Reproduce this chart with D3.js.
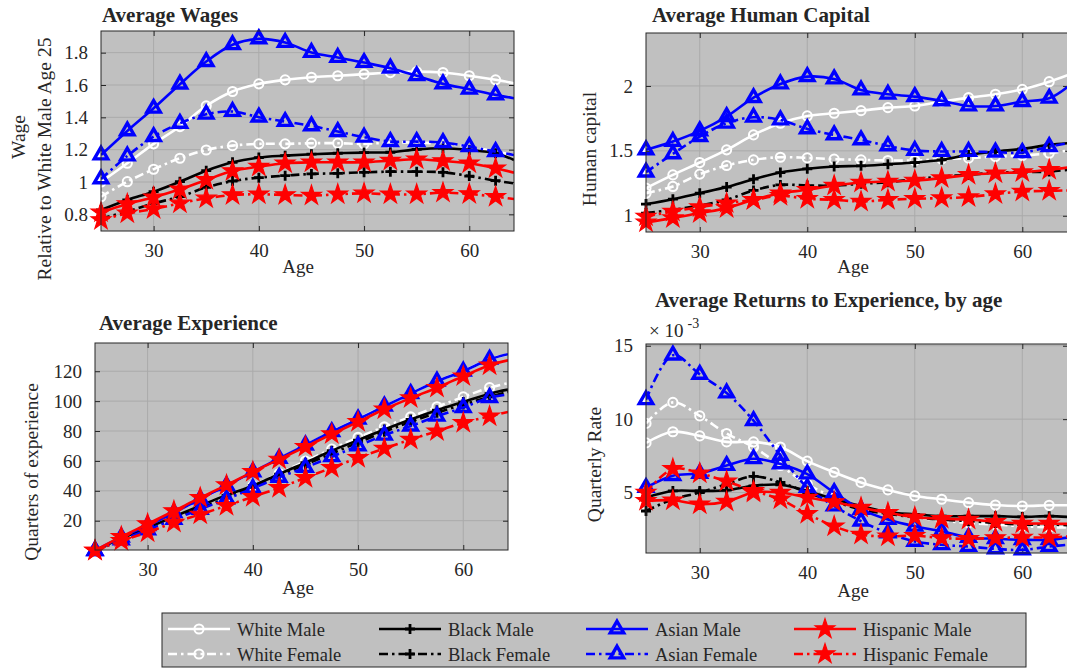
<!DOCTYPE html>
<html>
<head>
<meta charset="utf-8">
<script src="https://cdn.jsdelivr.net/npm/d3@7"></script>
<style>
  body { margin: 0; background: #fff; }
  svg text { font-family: "Liberation Serif", "Times New Roman", serif; fill: #262626; }
</style>
</head>
<body>
<svg id="fig" width="1067" height="669"></svg>
<script>
// ages: markers every 2.5 years, last point is the end of the curve
const ages = [25, 27.5, 30, 32.5, 35, 37.5, 40, 42.5, 45, 47.5, 50, 52.5, 55, 57.5, 60, 62.5, 64.25];
const ageTicks = [30, 40, 50, 60];

const seriesNames = ["White Male", "White Female", "Black Male", "Black Female",
                     "Asian Male", "Asian Female", "Hispanic Male", "Hispanic Female"];

// Average wages, relative to white male age 25
const wageWhiteMale      = [1.00, 1.116, 1.236, 1.343, 1.471, 1.560, 1.607, 1.632, 1.648, 1.657, 1.667, 1.677, 1.683, 1.677, 1.657, 1.632, 1.611];
const wageWhiteFemale    = [0.909, 1.002, 1.079, 1.147, 1.198, 1.225, 1.236, 1.236, 1.240, 1.240, 1.236, 1.244, 1.244, 1.236, 1.219, 1.188, 1.167];
const wageBlackMale      = [0.827, 0.889, 0.940, 1.002, 1.070, 1.122, 1.151, 1.163, 1.172, 1.178, 1.182, 1.184, 1.202, 1.209, 1.198, 1.178, 1.136];
const wageBlackFemale    = [0.775, 0.817, 0.868, 0.909, 0.967, 1.006, 1.027, 1.039, 1.050, 1.054, 1.060, 1.064, 1.064, 1.060, 1.037, 1.008, 0.992];
const wageAsianMale      = [1.167, 1.316, 1.456, 1.605, 1.745, 1.849, 1.885, 1.863, 1.801, 1.770, 1.739, 1.704, 1.657, 1.607, 1.574, 1.539, 1.518];
const wageAsianFemale    = [1.019, 1.161, 1.281, 1.363, 1.419, 1.436, 1.401, 1.374, 1.347, 1.312, 1.277, 1.250, 1.250, 1.244, 1.219, 1.188, 1.167];
const wageHispanicMale   = [0.812, 0.864, 0.905, 0.955, 1.013, 1.068, 1.095, 1.116, 1.122, 1.122, 1.122, 1.132, 1.141, 1.130, 1.116, 1.085, 1.058];
const wageHispanicFemale = [0.765, 0.806, 0.833, 0.868, 0.899, 0.920, 0.924, 0.920, 0.916, 0.924, 0.930, 0.924, 0.924, 0.934, 0.926, 0.909, 0.895];
const wageTicks = [0.8, 1, 1.2, 1.4, 1.6, 1.8];

// Average human capital
const hcWhiteMale      = [1.213, 1.315, 1.410, 1.508, 1.623, 1.713, 1.769, 1.790, 1.810, 1.833, 1.846, 1.879, 1.910, 1.936, 1.974, 2.033, 2.085];
const hcWhiteFemale    = [1.174, 1.226, 1.321, 1.387, 1.431, 1.451, 1.446, 1.436, 1.431, 1.426, 1.426, 1.436, 1.444, 1.456, 1.464, 1.482, 1.503];
const hcBlackMale      = [1.090, 1.128, 1.174, 1.221, 1.282, 1.333, 1.362, 1.379, 1.385, 1.397, 1.410, 1.431, 1.469, 1.495, 1.515, 1.546, 1.559];
const hcBlackFemale    = [1.021, 1.046, 1.079, 1.123, 1.195, 1.238, 1.233, 1.233, 1.246, 1.259, 1.282, 1.303, 1.315, 1.333, 1.336, 1.341, 1.354];
const hcAsianMale      = [1.508, 1.572, 1.654, 1.764, 1.910, 2.015, 2.072, 2.054, 1.969, 1.936, 1.918, 1.885, 1.846, 1.846, 1.879, 1.905, 1.995];
const hcAsianFemale    = [1.336, 1.477, 1.610, 1.713, 1.759, 1.738, 1.669, 1.623, 1.585, 1.538, 1.503, 1.495, 1.495, 1.490, 1.487, 1.533, 1.559];
const hcHispanicMale   = [0.949, 0.982, 1.021, 1.059, 1.123, 1.174, 1.200, 1.233, 1.256, 1.264, 1.272, 1.290, 1.315, 1.328, 1.336, 1.354, 1.372];
const hcHispanicFemale = [0.995, 1.033, 1.067, 1.097, 1.123, 1.154, 1.131, 1.123, 1.110, 1.123, 1.131, 1.136, 1.144, 1.167, 1.187, 1.192, 1.195];
const hcTicks = [1, 1.5, 2];

// Average experience, quarters
const expWhiteMale      = [0, 9.0, 16.9, 25.6, 34.3, 43.3, 52.6, 61.4, 70.5, 79.6, 88.1, 96.7, 105.1, 113.4, 120.2, 128.1, 131.2];
const expWhiteFemale    = [0, 7.5, 14.2, 21.6, 28.2, 36.0, 43.4, 51.6, 59.9, 67.9, 75.7, 82.8, 89.5, 96.2, 102.8, 109.0, 112.0];
const expBlackMale      = [0, 8.2, 15.3, 22.7, 30.0, 37.1, 43.4, 51.2, 58.8, 66.8, 73.9, 81.0, 87.7, 93.9, 99.5, 105.0, 107.7];
const expBlackFemale    = [0, 7.5, 14.2, 21.6, 28.2, 35.4, 42.3, 50.1, 57.6, 65.0, 72.3, 79.5, 86.1, 92.2, 97.7, 102.8, 106.2];
const expAsianMale      = [0, 8.9, 16.7, 25.3, 34.5, 43.4, 52.7, 61.6, 70.6, 79.5, 87.9, 96.6, 105.0, 113.3, 120.0, 128.0, 131.4];
const expAsianFemale    = [0, 7.1, 13.8, 20.9, 27.6, 34.5, 41.6, 49.0, 55.6, 62.8, 70.1, 77.2, 83.3, 89.9, 95.7, 102.4, 104.4];
const expHispanicMale   = [0, 9.3, 17.8, 26.5, 35.4, 43.8, 52.7, 61.0, 69.4, 77.9, 86.1, 94.6, 102.0, 109.0, 116.7, 124.0, 127.3];
const expHispanicFemale = [0, 6.6, 12.2, 18.7, 24.2, 30.0, 36.0, 42.0, 48.7, 55.4, 62.1, 68.3, 74.3, 79.9, 85.5, 89.9, 92.8];
const expTicks = [20, 40, 60, 80, 100, 120];

// Average returns to experience, quarterly rate in units of 1e-3
const retWhiteMale      = [8.38, 9.14, 8.86, 8.45, 8.45, 8.10, 7.14, 6.38, 5.69, 5.18, 4.77, 4.54, 4.31, 4.15, 4.08, 4.13, 4.13];
const retWhiteFemale    = [9.71, 11.14, 10.22, 9.02, 8.10, 6.84, 5.57, 4.66, 3.97, 3.62, 3.32, 3.09, 2.93, 2.82, 2.70, 2.63, 2.63];
const retBlackMale      = [4.66, 5.11, 5.11, 5.16, 5.46, 5.53, 5.11, 4.54, 4.08, 3.67, 3.51, 3.39, 3.39, 3.39, 3.34, 3.39, 3.34];
const retBlackFemale    = [3.74, 4.54, 5.00, 5.57, 6.10, 5.69, 5.00, 4.38, 3.85, 3.55, 3.32, 3.16, 3.05, 2.93, 2.82, 2.82, 2.77];
const retAsianMale      = [5.34, 6.15, 6.31, 6.84, 7.30, 6.95, 6.26, 5.00, 3.85, 3.16, 2.70, 2.36, 1.94, 1.85, 1.78, 1.78, 1.94];
const retAsianFemale    = [11.32, 14.36, 13.05, 11.78, 9.90, 7.53, 5.34, 4.08, 3.05, 2.24, 1.67, 1.44, 1.32, 1.16, 1.09, 1.32, 1.44];
const retHispanicMale   = [4.43, 4.47, 4.20, 4.38, 5.00, 5.00, 4.66, 4.36, 3.97, 3.62, 3.32, 3.21, 3.16, 3.00, 2.89, 2.89, 2.86];
const retHispanicFemale = [5.00, 6.61, 6.31, 5.76, 5.11, 4.54, 3.55, 2.70, 2.13, 2.01, 2.06, 1.90, 1.85, 1.90, 1.94, 1.94, 2.01];
const retTicks = [5, 10, 15];

// look of each series (same order as seriesNames)
const femaleDash = "9,4,2.5,4";
const seriesStyle = [
  { color: "#ffffff", dash: null,       marker: "circle" },
  { color: "#ffffff", dash: femaleDash, marker: "circle" },
  { color: "#000000", dash: null,       marker: "plus" },
  { color: "#000000", dash: femaleDash, marker: "plus" },
  { color: "#0000ff", dash: null,       marker: "triangle" },
  { color: "#0000ff", dash: femaleDash, marker: "triangle" },
  { color: "#ff0000", dash: null,       marker: "star" },
  { color: "#ff0000", dash: femaleDash, marker: "star" }
];

const panels = [
  { id: "wage", title: "Average Wages", rect: [101, 31, 514, 231], ydom: [0.697, 1.934], ticks: wageTicks,
    titlePos: [102, 21.5], agePos: [298, 273],
    ylabels: [{ t: "Wage", x: 25, y: 137 }, { t: "Relative to White Male Age 25", x: 51, y: 159 }],
    series: [wageWhiteMale, wageWhiteFemale, wageBlackMale, wageBlackFemale, wageAsianMale, wageAsianFemale, wageHispanicMale, wageHispanicFemale] },
  { id: "hc", title: "Average Human Capital", rect: [646, 33, 1068, 232], ydom: [0.875, 2.408], ticks: hcTicks,
    titlePos: [652, 22], agePos: [853, 273],
    ylabels: [{ t: "Human capital", x: 596, y: 149 }],
    series: [hcWhiteMale, hcWhiteFemale, hcBlackMale, hcBlackFemale, hcAsianMale, hcAsianFemale, hcHispanicMale, hcHispanicFemale] },
  { id: "exp", title: "Average Experience", rect: [95, 343, 508, 550], ydom: [0.4, 138.9], ticks: expTicks,
    titlePos: [99, 329.5], agePos: [298, 594],
    ylabels: [{ t: "Quarters of experience", x: 38, y: 472 }],
    series: [expWhiteMale, expWhiteFemale, expBlackMale, expBlackFemale, expAsianMale, expAsianFemale, expHispanicMale, expHispanicFemale] },
  { id: "ret", title: "Average Returns to Experience, by age", rect: [646, 344, 1068, 553], ydom: [0.88, 15.12], ticks: retTicks,
    titlePos: [655, 306.5], agePos: [853, 597],
    ylabels: [{ t: "Quarterly Rate", x: 601, y: 464.5 }],
    series: [retWhiteMale, retWhiteFemale, retBlackMale, retBlackFemale, retAsianMale, retAsianFemale, retHispanicMale, retHispanicFemale] }
];

const svg = d3.select("#fig");
const axisColor = "#262626";
const gridColor = "#aaaaaa";
const bg = "#c0c0c0";

function markerPath(type) {
  if (type === "circle") return d3.symbol(d3.symbolCircle, 66)();
  if (type === "triangle") return d3.symbol(d3.symbolTriangle, 78)();
  if (type === "star") return d3.symbol(d3.symbolStar, 120)();
  return "M-5,0H5M0,-5V5";
}

function drawMarker(sel, style) {
  const m = sel.append("path").attr("d", markerPath(style.marker))
    .attr("stroke", style.color).attr("stroke-linejoin", "miter");
  if (style.marker === "star") m.attr("fill", style.color).attr("stroke-width", 1.2);
  else if (style.marker === "circle") m.attr("fill", "none").attr("stroke-width", 2);
  else if (style.marker === "triangle") m.attr("fill", "none").attr("stroke-width", 3.4);
  else m.attr("fill", "none").attr("stroke-width", 2.8);
  return m;
}

panels.forEach(p => {
  const [x0, y0, x1, y1] = p.rect;
  const x = d3.scaleLinear().domain([25, 64.25]).range([x0, x1]);
  const y = d3.scaleLinear().domain(p.ydom).range([y1, y0]);
  const g = svg.append("g");

  g.append("clipPath").attr("id", "clip-" + p.id)
    .append("rect").attr("x", x0).attr("y", y0).attr("width", x1 - x0).attr("height", y1 - y0);

  g.append("rect").attr("x", x0).attr("y", y0).attr("width", x1 - x0).attr("height", y1 - y0)
    .attr("fill", bg);

  // grid
  g.append("g").selectAll("line").data(ageTicks).join("line")
    .attr("x1", d => x(d)).attr("x2", d => x(d)).attr("y1", y0).attr("y2", y1)
    .attr("stroke", gridColor).attr("stroke-width", 1);
  g.append("g").selectAll("line").data(p.ticks).join("line")
    .attr("x1", x0).attr("x2", x1).attr("y1", d => y(d)).attr("y2", d => y(d))
    .attr("stroke", gridColor).attr("stroke-width", 1);

  // axes, ticks pointing inward
  const fmt = d => String(d);
  const xa = g.append("g").attr("transform", `translate(0,${y1})`)
    .call(d3.axisBottom(x).tickValues(ageTicks).tickFormat(fmt).tickSizeInner(-5).tickSizeOuter(0).tickPadding(13));
  const xt = g.append("g").attr("transform", `translate(0,${y0})`)
    .call(d3.axisTop(x).tickValues(ageTicks).tickSizeInner(-5).tickSizeOuter(0).tickFormat(""));
  const ya = g.append("g").attr("transform", `translate(${x0},0)`)
    .call(d3.axisLeft(y).tickValues(p.ticks).tickFormat(fmt).tickSizeInner(-5).tickSizeOuter(0).tickPadding(13));
  const yr = g.append("g").attr("transform", `translate(${x1},0)`)
    .call(d3.axisRight(y).tickValues(p.ticks).tickSizeInner(-5).tickSizeOuter(0).tickFormat(""));
  [xa, xt, ya, yr].forEach(a => {
    a.select(".domain").remove();
    a.selectAll("line").attr("stroke", axisColor);
    a.selectAll("text").attr("font-size", 19).attr("font-family", null).attr("fill", axisColor);
  });

  // series
  const line = d3.line().x((d, i) => x(ages[i])).y(d => y(d)).curve(d3.curveCatmullRom.alpha(0.5));
  const plot = g.append("g");
  p.series.forEach((vals, si) => {
    const st = seriesStyle[si];
    plot.append("path").datum(vals).attr("d", line)
      .attr("clip-path", `url(#clip-${p.id})`)
      .attr("fill", "none").attr("stroke", st.color).attr("stroke-width", 2.6)
      .attr("stroke-dasharray", st.dash);
    const mg = plot.append("g");
    vals.slice(0, ages.length - 1).forEach((v, i) => {
      const mk = mg.append("g").attr("transform", `translate(${x(ages[i])},${y(v)})`);
      drawMarker(mk, st);
    });
  });

  // box
  g.append("rect").attr("x", x0).attr("y", y0).attr("width", x1 - x0).attr("height", y1 - y0)
    .attr("fill", "none").attr("stroke", axisColor).attr("stroke-width", 1);

  // labels
  g.append("text").attr("x", p.titlePos[0]).attr("y", p.titlePos[1])
    .attr("font-size", 21).attr("font-weight", "bold").attr("fill", "#000").text(p.title);
  g.append("text").attr("x", p.agePos[0]).attr("y", p.agePos[1]).attr("text-anchor", "middle")
    .attr("font-size", 19).text("Age");
  p.ylabels.forEach(l => {
    g.append("text").attr("transform", `translate(${l.x},${l.y}) rotate(-90)`)
      .attr("text-anchor", "middle").attr("font-size", 19.5).text(l.t);
  });
});

// exponent for the returns panel
const ex = svg.append("text").attr("x", 649).attr("y", 336.5).attr("font-size", 19);
ex.append("tspan").text("\u00d7 10");
ex.append("tspan").attr("font-size", 14).attr("dx", 4).attr("dy", -9).text("-3");

// legend
const legX = 162, legY = 613, legW = 864, legH = 54;
const leg = svg.append("g");
leg.append("rect").attr("x", legX).attr("y", legY).attr("width", legW).attr("height", legH)
  .attr("fill", bg).attr("stroke", axisColor).attr("stroke-width", 1);
const colX = [168, 379, 586, 794];
const rowY = [629, 654];
seriesNames.forEach((name, i) => {
  const st = seriesStyle[i];
  const cx = colX[Math.floor(i / 2)], cy = rowY[i % 2];
  const e = leg.append("g");
  e.append("line").attr("x1", cx).attr("x2", cx + 62).attr("y1", cy).attr("y2", cy)
    .attr("stroke", st.color).attr("stroke-width", 2.6).attr("stroke-dasharray", st.dash);
  const mk = e.append("g").attr("transform", `translate(${cx + 31},${cy})`);
  drawMarker(mk, st);
  e.append("text").attr("x", cx + 69).attr("y", cy + 6.5).attr("font-size", 18.5).attr("fill", "#000").text(name);
});
</script>
</body>
</html>
